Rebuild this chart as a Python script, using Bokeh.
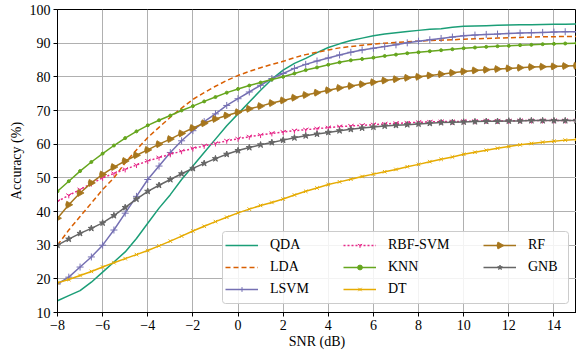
import math
from bokeh.plotting import figure
from bokeh.models import Legend, LegendItem, FixedTicker, BoxAnnotation
from bokeh.embed import file_html
from bokeh.resources import INLINE

snr = [-8 + 0.5 * i for i in range(47)]

qda = [13.5, 15, 16.5, 19, 22, 25, 28, 32, 36.5, 41, 45, 49.5, 53.5, 57.5, 61.5, 65.5,
       69, 72.5, 76, 79.3, 82, 84, 85.5, 87.2, 88.7, 89.8, 90.8, 91.5, 92.2, 92.7, 93.1, 93.5,
       93.8, 94.1, 94.3, 94.7, 95, 95.1, 95.2, 95.3, 95.4, 95.45, 95.5, 95.55, 95.6, 95.65, 95.7]
lda = [30, 34.5, 38.5, 42.5, 46.5, 50, 54.5, 58.3, 62, 65, 68, 70.7, 73.3, 75.3, 77.2, 78.9,
       80.4, 81.6, 82.7, 83.7, 84.6, 85.7, 86.6, 87.3, 88, 88.6, 89, 89.4, 89.7, 90, 90.2, 90.4,
       90.6, 90.8, 90.9, 91, 91.2, 91.3, 91.4, 91.5, 91.6, 91.7, 91.8, 91.9, 91.9, 92, 92]
lsvm = [18.5, 20.5, 23.5, 26.5, 30, 34.5, 39.5, 44.5, 49.5, 53.5, 57.5, 61, 64, 66.7, 69, 71.5,
        73.5, 75.5, 77.5, 79.5, 81, 82.5, 83.7, 84.7, 85.6, 86.5, 87.3, 88, 88.5, 89, 89.5, 90.1,
        90.6, 91, 91.4, 91.8, 92.2, 92.4, 92.6, 92.7, 92.9, 93, 93.1, 93.2, 93.3, 93.4, 93.4]
rbf = [43, 44.8, 46.5, 48.3, 50, 51.3, 52.5, 53.8, 55, 56, 57, 57.9, 58.7, 59.5, 60.2, 61,
       61.6, 62.2, 62.7, 63.2, 63.6, 64, 64.3, 64.6, 64.9, 65.2, 65.4, 65.6, 65.8, 66, 66.2, 66.3,
       66.5, 66.6, 66.7, 66.7, 66.8, 66.8, 66.9, 66.9, 66.9, 67, 67, 67, 67, 67, 67]
knn = [46, 49, 52, 54.7, 57.2, 59.6, 61.8, 63.8, 65.6, 67.1, 68.5, 70, 71.3, 72.7, 74, 75.3,
       76.4, 77.4, 78.3, 79.2, 80, 81, 82, 82.8, 83.6, 84.3, 84.9, 85.3, 85.7, 86.2, 86.6, 87,
       87.3, 87.6, 87.9, 88.2, 88.5, 88.7, 88.9, 89.1, 89.2, 89.4, 89.5, 89.7, 89.8, 89.9, 90]
dt = [18.8, 19.8, 21, 22.2, 23.5, 24.8, 26, 27.2, 28.4, 29.8, 31.2, 32.7, 34.2, 35.6, 37, 38.3,
      39.6, 40.7, 41.8, 42.7, 43.7, 44.9, 46, 47, 48, 48.8, 49.6, 50.4, 51.1, 51.8, 52.5, 53.3,
      54, 54.8, 55.5, 56.2, 57, 57.6, 58.2, 58.8, 59.3, 59.8, 60.2, 60.6, 60.9, 61.2, 61.4]
rf = [38, 42, 45.5, 48.5, 51, 53.2, 55, 56.7, 58.3, 60, 61.5, 63.2, 64.8, 66.2, 67.5, 68.5,
      69.5, 70.5, 71.3, 72.2, 73, 73.8, 74.6, 75.3, 76, 76.7, 77.3, 77.8, 78.4, 78.9, 79.3, 79.7,
      80, 80.4, 80.8, 81.2, 81.6, 81.9, 82.1, 82.3, 82.5, 82.7, 82.9, 83, 83.1, 83.2, 83.3]
gnb = [30, 31.8, 33.5, 35, 36.6, 38.8, 41.2, 43.7, 46, 47.8, 49.5, 51.2, 52.8, 54.3, 55.7, 57,
       58.1, 59, 59.8, 60.5, 61.2, 61.9, 62.5, 63, 63.5, 64, 64.4, 64.8, 65.1, 65.4, 65.6, 65.8,
       66, 66.2, 66.4, 66.5, 66.6, 66.7, 66.8, 66.8, 66.9, 66.9, 67, 67, 67, 67, 67]

x_ticks = [-8, -6, -4, -2, 0, 2, 4, 6, 8, 10, 12, 14]
y_ticks = [10, 20, 30, 40, 50, 60, 70, 80, 90, 100]

FONT = "Liberation Serif"
PX_X = 519 / 23.0   # pixels per dB in the frame
PX_Y = 303 / 90.0   # pixels per % in the frame

p = figure(width=576, height=352, output_backend="svg", toolbar_location=None,
           x_range=(-8, 15), y_range=(10, 100))
p.min_border_left = 57
p.min_border_right = 0
p.min_border_top = 9
p.min_border_bottom = 40
p.background_fill_color = "white"
p.border_fill_color = "white"
p.outline_line_color = "black"
p.outline_line_width = 1

p.xaxis.ticker = FixedTicker(ticks=x_ticks)
p.yaxis.ticker = FixedTicker(ticks=y_ticks)
p.xaxis.major_label_overrides = {t: (str(t).replace("-", "\u2212")) for t in x_ticks}
for ax in (p.xaxis, p.yaxis):
    ax.major_label_text_font = FONT
    ax.major_label_text_font_size = "14px"
    ax.major_label_text_color = "black"
    ax.axis_label_text_font = FONT
    ax.axis_label_text_font_size = "14px"
    ax.axis_label_text_font_style = "normal"
    ax.axis_label_text_color = "black"
    ax.axis_line_color = "black"
    ax.major_tick_line_color = "black"
    ax.major_tick_in = 0
    ax.major_tick_out = 4
    ax.minor_tick_line_color = None
p.xaxis.axis_label = "SNR (dB)"
p.yaxis.axis_label = "Accuracy (%)"
p.xaxis.axis_label_standoff = 1
p.yaxis.axis_label_standoff = 3
p.xaxis.major_label_standoff = 3
p.yaxis.major_label_standoff = 3

p.xgrid.grid_line_color = "#b0b0b0"
p.ygrid.grid_line_color = "#b0b0b0"
p.xgrid.grid_line_width = 1
p.ygrid.grid_line_width = 1

WEDGE_R = 7
WEDGE_SHIFT = 4 / PX_X   # centre the right-pointing wedge on its point
W0, W1 = math.radians(150), math.radians(210)

series = [
    ("QDA", qda, "#1b9e77", "solid", None, 0),
    ("LDA", lda, "#d95f02", "5 3", None, 0),
    ("LSVM", lsvm, "#7570b3", "solid", "cross", 7),
    ("RBF-SVM", rbf, "#e7298a", "2 2", "y", 6),
    ("KNN", knn, "#66a61e", "solid", "circle", 3),
    ("DT", dt, "#e6ab02", "solid", "x", 5),
    ("RF", rf, "#a6761d", "solid", "wedge", 0),
    ("GNB", gnb, "#666666", "solid", "star", 6.5),
]

items = []
for name, vals, col, dash, marker, size in series:
    rs = [p.line(snr, vals, line_color=col, line_width=1.5, line_dash=dash)]
    if marker == "wedge":
        p.wedge(x=[s + WEDGE_SHIFT for s in snr], y=vals, radius=WEDGE_R,
                radius_units="screen", start_angle=W0, end_angle=W1,
                direction="anticlock", fill_color=col, line_color=col, line_width=0.8)
    elif marker:
        rs.append(p.scatter(x=snr, y=vals, marker=marker, size=size,
                            line_color=col, fill_color=col, line_width=1))
    items.append(LegendItem(label=name, renderers=rs))

# legend background box
box = BoxAnnotation(left=-8 + 165 / PX_X, right=-8 + 511 / PX_X,
                    top=10 + 81 / PX_Y, bottom=10 + 9 / PX_Y,
                    fill_color="white", fill_alpha=0.85,
                    line_color="#cccccc", line_width=1, line_alpha=1.0,
                    border_radius=3)
p.add_layout(box)

col_x = [168, 286, 426]
col_y = [14, 14, 36]
groups = [items[0:3], items[3:6], items[6:8]]
for its, lx, ly in zip(groups, col_x, col_y):
    lg = Legend(items=its, location=(lx, ly), orientation="vertical")
    lg.label_text_font = FONT
    lg.label_text_font_size = "14px"
    lg.label_text_color = "black"
    lg.glyph_width = 33
    lg.glyph_height = 12
    lg.label_standoff = 12
    lg.label_height = 18
    lg.label_width = 20
    lg.spacing = 4
    lg.padding = 0
    lg.margin = 0
    lg.border_line_color = None
    lg.background_fill_alpha = 0
    p.add_layout(lg, "center")

# right-pointing marker on the RF legend line (centre of its glyph slot)
rf_leg = p.wedge(x=[-8 + (426 + 16.5) / PX_X + WEDGE_SHIFT], y=[10 + 67 / PX_Y],
                 radius=WEDGE_R, radius_units="screen", start_angle=W0, end_angle=W1,
                 direction="anticlock", fill_color="#a6761d", line_color="#a6761d",
                 line_width=0.8, level="overlay")

open("out.html", "w").write(file_html(p, INLINE))
